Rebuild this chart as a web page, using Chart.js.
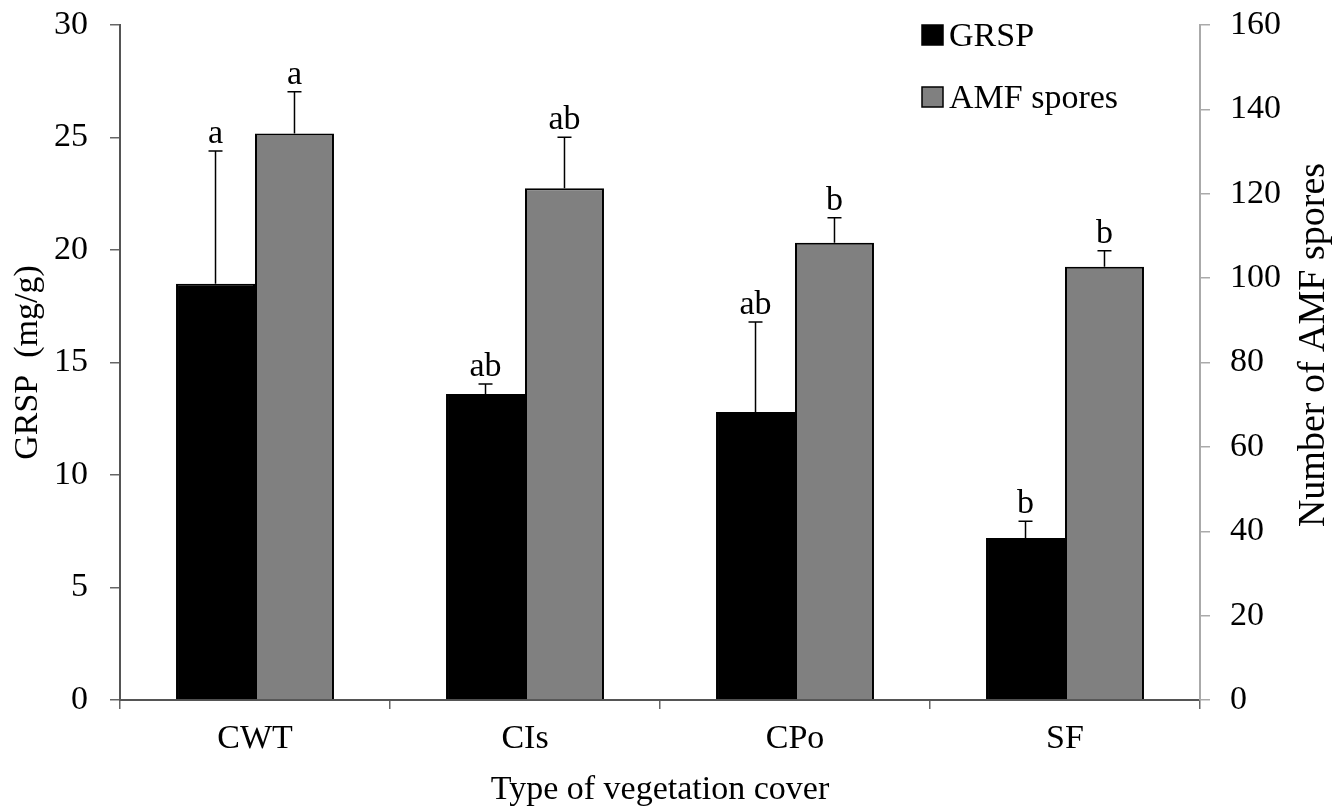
<!DOCTYPE html>
<html>
<head>
<meta charset="utf-8">
<script src="https://cdn.jsdelivr.net/npm/chart.js@4.4.1/dist/chart.umd.min.js"></script>
<style>
  html, body { margin: 0; padding: 0; background: #fff; }
  #wrap { width: 1344px; height: 811px; }
</style>
</head>
<body>
<div id="wrap"><canvas id="chart" width="1344" height="811"></canvas></div>
<script>
// ============ DATA ============
const categories = ['CWT', 'CIs', 'CPo', 'SF'];
const grspValues = [18.5, 13.6, 12.8, 7.2];
const grspErrors = [5.9, 0.45, 4.0, 0.75];
const grspLetters = ['a', 'ab', 'ab', 'b'];
const amfValues = [134.3, 121.3, 108.4, 102.7];
const amfErrors = [9.9, 12.1, 5.9, 3.8];
const amfLetters = ['a', 'ab', 'b', 'b'];

const FONT = "'Liberation Serif', 'Times New Roman', serif";
const TICK_SIZE = 34;
const TITLE_SIZE = 34;
const RIGHT_TITLE_SIZE = 38;

// ============ ERROR BARS + LETTERS ============
const errorBarPlugin = {
    id: 'errorBars',
    afterDatasetsDraw(chart) {
        const ctx = chart.ctx;
        const errs = [grspErrors, amfErrors];
        const letters = [grspLetters, amfLetters];
        chart.data.datasets.forEach((ds, i) => {
            const meta = chart.getDatasetMeta(i);
            const scale = chart.scales[ds.yAxisID];
            meta.data.forEach((bar, j) => {
                const top = scale.getPixelForValue(ds.data[j] + errs[i][j]);
                ctx.save();
                ctx.strokeStyle = '#000';
                ctx.lineWidth = 1.5;
                ctx.beginPath();
                ctx.moveTo(bar.x, bar.y);
                ctx.lineTo(bar.x, top);
                ctx.moveTo(bar.x - 7, top);
                ctx.lineTo(bar.x + 7, top);
                ctx.stroke();
                ctx.fillStyle = '#000';
                ctx.font = TICK_SIZE + 'px ' + FONT;
                ctx.textAlign = 'center';
                ctx.textBaseline = 'alphabetic';
                ctx.fillText(letters[i][j], bar.x, top - 8);
                ctx.restore();
            });
        });
    }
};

// ============ LEGEND + RIGHT TITLE ============
const extrasPlugin = {
    id: 'extras',
    afterDraw(chart) {
        const ctx = chart.ctx;
        ctx.save();
        ctx.font = TICK_SIZE + 'px ' + FONT;
        ctx.textBaseline = 'middle';
        ctx.textAlign = 'left';
        chart.data.datasets.forEach((ds, i) => {
            const y = 35 + i * 62;
            ctx.fillStyle = ds.backgroundColor;
            ctx.fillRect(922, y - 10, 21, 20);
            ctx.strokeStyle = '#000';
            ctx.lineWidth = 1.5;
            ctx.strokeRect(922, y - 10, 21, 20);
            ctx.fillStyle = '#000';
            ctx.fillText(ds.label, 949, y + 2);
        });
        // right axis title reads bottom-to-top
        ctx.translate(1314, 345);
        ctx.rotate(-Math.PI / 2);
        ctx.textAlign = 'center';
        ctx.font = RIGHT_TITLE_SIZE + 'px ' + FONT;
        ctx.fillText('Number of AMF spores', 0, 0);
        ctx.restore();
    }
};

// pin the plot top edge to y = 25
function pinTop(scale) { scale.paddingTop = 25; }

// ============ CHART ============
new Chart(document.getElementById('chart').getContext('2d'), {
    type: 'bar',
    data: {
        labels: categories,
        datasets: [{
            label: 'GRSP',
            data: grspValues,
            backgroundColor: '#000000',
            borderColor: '#000000',
            borderWidth: 2,
            yAxisID: 'y'
        }, {
            label: 'AMF spores',
            data: amfValues,
            backgroundColor: '#808080',
            borderColor: '#000000',
            borderWidth: 2,
            yAxisID: 'y1'
        }]
    },
    options: {
        responsive: false,
        animation: false,
        layout: { padding: 0 },
        datasets: { bar: { categoryPercentage: 0.585, barPercentage: 1.0 } },
        plugins: {
            legend: { display: false },
            tooltip: { enabled: false }
        },
        scales: {
            x: {
                offset: true,
                grid: { offset: true, drawOnChartArea: false, drawTicks: true, tickLength: 9, color: '#666', lineWidth: 1.5 },
                border: { color: '#555', width: 2 },
                ticks: { color: '#000', font: { family: FONT, size: TICK_SIZE }, padding: 10 },
                title: { display: true, text: 'Type of vegetation cover', color: '#000', font: { family: FONT, size: TITLE_SIZE }, padding: { top: 0, bottom: 1 } },
                afterFit(scale) { scale.height = 111; }
            },
            y: {
                position: 'left',
                min: 0, max: 30,
                ticks: { stepSize: 5, color: '#000', font: { family: FONT, size: TICK_SIZE }, padding: 22 },
                grid: { drawOnChartArea: false, drawTicks: true, tickLength: 10, color: '#666', lineWidth: 1.5 },
                border: { color: '#555', width: 2 },
                title: { display: true, text: 'GRSP  (mg/g)', color: '#000', font: { family: FONT, size: TITLE_SIZE }, padding: { top: 8, bottom: 0 } },
                afterFit(scale) { scale.width = 120; pinTop(scale); }
            },
            y1: {
                position: 'right',
                min: 0, max: 160,
                ticks: { stepSize: 20, color: '#000', font: { family: FONT, size: TICK_SIZE }, padding: 20 },
                grid: { drawOnChartArea: false, drawTicks: true, tickLength: 10, color: '#aaa', lineWidth: 1.5 },
                border: { color: '#aaa', width: 2 },
                afterFit(scale) { scale.width = 144; pinTop(scale); }
            }
        }
    },
    plugins: [errorBarPlugin, extrasPlugin]
});
</script>
</body>
</html>
